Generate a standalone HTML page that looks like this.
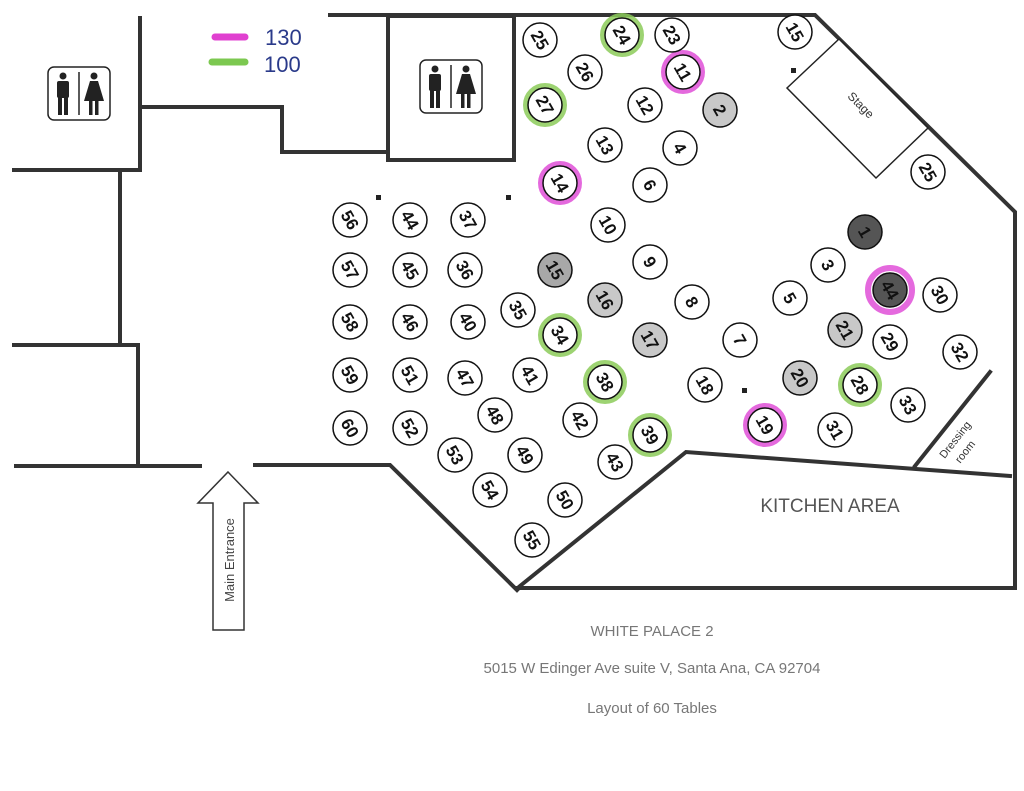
<!DOCTYPE html>
<html><head><meta charset="utf-8"><style>
html,body{margin:0;padding:0;background:#fff;}
svg{display:block;font-family:"Liberation Sans",sans-serif;}
</style></head><body>
<svg width="1024" height="791" viewBox="0 0 1024 791">
<defs>
<g id="rr">
<rect x="48" y="67" width="62" height="53" rx="6" fill="#fff" stroke="#222" stroke-width="1.5"/>
<line x1="79" y1="72" x2="79" y2="115" stroke="#222" stroke-width="1.5"/>
<circle cx="63" cy="76" r="3.5" fill="#222"/>
<rect x="57" y="81" width="12" height="17" rx="2" fill="#222"/>
<rect x="58" y="96" width="4" height="19" fill="#222"/><rect x="64" y="96" width="4" height="19" fill="#222"/>
<circle cx="94" cy="76" r="3.5" fill="#222"/>
<polygon points="90,81 98,81 104,101 84,101" fill="#222"/>
<rect x="89" y="100" width="3.5" height="15" fill="#222"/><rect x="95" y="100" width="3.5" height="15" fill="#222"/>
</g>
</defs>
<rect width="1024" height="791" fill="#fff"/>
<g stroke="#333" stroke-width="4" fill="none" stroke-linecap="square">
<path d="M140 18 V170 H14"/>
<path d="M120 170 V342"/>
<path d="M14 345 H138 V466"/>
<path d="M16 466 H200"/>
<path d="M255 465 H390 L517 590"/>
<path d="M143 107 H282 V152 H387"/>
<path d="M330 15 H815 L1015 212 V588 H517"/>
<rect x="388" y="16" width="126" height="144"/>
<path d="M520 586 L686 452 L1010 476"/>
<path d="M915 466 L990 372"/>
</g>
<polygon points="787,88 839,39 928,128 876,178" fill="#fff" stroke="#222" stroke-width="1.5"/>
<text x="858" y="108" font-size="12" fill="#333" text-anchor="middle" transform="rotate(45 858 108)">Stage</text>
<text x="958" y="442" font-size="11" fill="#333" text-anchor="middle" transform="rotate(-52 958 442)">Dressing</text>
<text x="968" y="454" font-size="11" fill="#333" text-anchor="middle" transform="rotate(-52 968 454)">room</text>
<text x="830" y="512" font-size="19" fill="#555" text-anchor="middle">KITCHEN AREA</text>
<use href="#rr"/>
<use href="#rr" transform="translate(372,-7)"/>
<line x1="215" y1="37" x2="245" y2="37" stroke="#e040d0" stroke-width="7" stroke-linecap="round"/>
<line x1="212" y1="62" x2="245" y2="62" stroke="#7cc850" stroke-width="7" stroke-linecap="round"/>
<text x="265" y="45" font-size="22" fill="#2a3a8a">130</text>
<text x="264" y="72" font-size="22" fill="#2a3a8a">100</text>
<g fill="#222"><rect x="376" y="195" width="5" height="5"/><rect x="506" y="195" width="5" height="5"/><rect x="791" y="68" width="5" height="5"/><rect x="742" y="388" width="5" height="5"/></g>
<polygon points="228,472 258,503 244,503 244,630 213,630 213,503 198,503" fill="#fff" stroke="#333" stroke-width="1.5"/>
<text x="234" y="560" font-size="13" fill="#444" text-anchor="middle" transform="rotate(-90 234 560)">Main Entrance</text>
<g fill="#777" font-size="15" text-anchor="middle">
<text x="652" y="636">WHITE PALACE 2</text>
<text x="652" y="673">5015 W Edinger Ave suite V, Santa Ana, CA 92704</text>
<text x="652" y="713">Layout of 60 Tables</text>
</g>
<g fill="none" stroke-width="6" opacity="0.85">
<g stroke="#e050d8"><circle cx="683" cy="72" r="19"/><circle cx="560" cy="183" r="19"/><circle cx="765" cy="425" r="19"/><circle cx="890" cy="290" r="22"/></g>
<g stroke="#8ccc5a"><circle cx="622" cy="35" r="19"/><circle cx="545" cy="105" r="19"/><circle cx="560" cy="335" r="19"/><circle cx="605" cy="382" r="19"/><circle cx="650" cy="435" r="19"/><circle cx="860" cy="385" r="19"/></g>
</g>
<g stroke="#111" stroke-width="1.5" fill="#fff">
<circle cx="350" cy="220" r="17"/><circle cx="410" cy="220" r="17"/><circle cx="468" cy="220" r="17"/>
<circle cx="350" cy="270" r="17"/><circle cx="410" cy="270" r="17"/><circle cx="465" cy="270" r="17"/>
<circle cx="350" cy="322" r="17"/><circle cx="410" cy="322" r="17"/><circle cx="468" cy="322" r="17"/>
<circle cx="350" cy="375" r="17"/><circle cx="410" cy="375" r="17"/><circle cx="465" cy="378" r="17"/>
<circle cx="350" cy="428" r="17"/><circle cx="410" cy="428" r="17"/><circle cx="455" cy="455" r="17"/>
<circle cx="495" cy="415" r="17"/><circle cx="525" cy="455" r="17"/><circle cx="490" cy="490" r="17"/>
<circle cx="532" cy="540" r="17"/><circle cx="565" cy="500" r="17"/><circle cx="615" cy="462" r="17"/>
<circle cx="580" cy="420" r="17"/><circle cx="530" cy="375" r="17"/><circle cx="518" cy="310" r="17"/>
<circle cx="650" cy="435" r="17"/><circle cx="605" cy="382" r="17"/><circle cx="560" cy="335" r="17"/>
<circle cx="650" cy="262" r="17"/><circle cx="608" cy="225" r="17"/><circle cx="650" cy="185" r="17"/>
<circle cx="605" cy="145" r="17"/><circle cx="680" cy="148" r="17"/><circle cx="645" cy="105" r="17"/>
<circle cx="683" cy="72" r="17"/><circle cx="672" cy="35" r="17"/><circle cx="622" cy="35" r="17"/>
<circle cx="585" cy="72" r="17"/><circle cx="545" cy="105" r="17"/><circle cx="540" cy="40" r="17"/>
<circle cx="560" cy="183" r="17"/><circle cx="692" cy="302" r="17"/><circle cx="705" cy="385" r="17"/>
<circle cx="740" cy="340" r="17"/><circle cx="790" cy="298" r="17"/><circle cx="828" cy="265" r="17"/>
<circle cx="890" cy="342" r="17"/><circle cx="940" cy="295" r="17"/><circle cx="960" cy="352" r="17"/>
<circle cx="860" cy="385" r="17"/><circle cx="908" cy="405" r="17"/><circle cx="765" cy="425" r="17"/>
<circle cx="835" cy="430" r="17"/><circle cx="795" cy="32" r="17"/><circle cx="928" cy="172" r="17"/>
<g fill="#c8c8c8"><circle cx="650" cy="340" r="17"/><circle cx="605" cy="300" r="17"/><circle cx="720" cy="110" r="17"/><circle cx="845" cy="330" r="17"/><circle cx="800" cy="378" r="17"/></g>
<circle cx="555" cy="270" r="17" fill="#a8a8a8"/>
<g fill="#555"><circle cx="865" cy="232" r="17"/><circle cx="890" cy="290" r="17"/></g>
</g>
<g font-size="17" font-weight="bold" text-anchor="middle" fill="#111">
<text x="350" y="226" transform="rotate(60 350 220)">56</text><text x="410" y="226" transform="rotate(60 410 220)">44</text><text x="468" y="226" transform="rotate(60 468 220)">37</text>
<text x="350" y="276" transform="rotate(60 350 270)">57</text><text x="410" y="276" transform="rotate(60 410 270)">45</text><text x="465" y="276" transform="rotate(60 465 270)">36</text>
<text x="350" y="328" transform="rotate(60 350 322)">58</text><text x="410" y="328" transform="rotate(60 410 322)">46</text><text x="468" y="328" transform="rotate(60 468 322)">40</text>
<text x="350" y="381" transform="rotate(60 350 375)">59</text><text x="410" y="381" transform="rotate(60 410 375)">51</text><text x="465" y="384" transform="rotate(60 465 378)">47</text>
<text x="350" y="434" transform="rotate(60 350 428)">60</text><text x="410" y="434" transform="rotate(60 410 428)">52</text><text x="455" y="461" transform="rotate(60 455 455)">53</text>
<text x="495" y="421" transform="rotate(60 495 415)">48</text><text x="525" y="461" transform="rotate(60 525 455)">49</text><text x="490" y="496" transform="rotate(60 490 490)">54</text>
<text x="532" y="546" transform="rotate(60 532 540)">55</text><text x="565" y="506" transform="rotate(60 565 500)">50</text><text x="615" y="468" transform="rotate(60 615 462)">43</text>
<text x="580" y="426" transform="rotate(60 580 420)">42</text><text x="530" y="381" transform="rotate(60 530 375)">41</text><text x="518" y="316" transform="rotate(60 518 310)">35</text>
<text x="650" y="441" transform="rotate(60 650 435)">39</text><text x="605" y="388" transform="rotate(60 605 382)">38</text><text x="560" y="341" transform="rotate(60 560 335)">34</text>
<text x="650" y="268" transform="rotate(60 650 262)">9</text><text x="608" y="231" transform="rotate(60 608 225)">10</text><text x="650" y="191" transform="rotate(60 650 185)">6</text>
<text x="605" y="151" transform="rotate(60 605 145)">13</text><text x="680" y="154" transform="rotate(60 680 148)">4</text><text x="645" y="111" transform="rotate(60 645 105)">12</text>
<text x="683" y="78" transform="rotate(60 683 72)">11</text><text x="672" y="41" transform="rotate(60 672 35)">23</text><text x="622" y="41" transform="rotate(60 622 35)">24</text>
<text x="585" y="78" transform="rotate(60 585 72)">26</text><text x="545" y="111" transform="rotate(60 545 105)">27</text><text x="540" y="46" transform="rotate(60 540 40)">25</text>
<text x="560" y="189" transform="rotate(60 560 183)">14</text><text x="692" y="308" transform="rotate(60 692 302)">8</text><text x="705" y="391" transform="rotate(60 705 385)">18</text>
<text x="740" y="346" transform="rotate(60 740 340)">7</text><text x="790" y="304" transform="rotate(60 790 298)">5</text><text x="828" y="271" transform="rotate(60 828 265)">3</text>
<text x="890" y="348" transform="rotate(60 890 342)">29</text><text x="940" y="301" transform="rotate(60 940 295)">30</text><text x="960" y="358" transform="rotate(60 960 352)">32</text>
<text x="860" y="391" transform="rotate(60 860 385)">28</text><text x="908" y="411" transform="rotate(60 908 405)">33</text><text x="765" y="431" transform="rotate(60 765 425)">19</text>
<text x="835" y="436" transform="rotate(60 835 430)">31</text><text x="795" y="38" transform="rotate(60 795 32)">15</text><text x="928" y="178" transform="rotate(60 928 172)">25</text>
<text x="650" y="346" transform="rotate(60 650 340)">17</text><text x="605" y="306" transform="rotate(60 605 300)">16</text><text x="720" y="116" transform="rotate(60 720 110)">2</text>
<text x="845" y="336" transform="rotate(60 845 330)">21</text><text x="800" y="384" transform="rotate(60 800 378)">20</text><text x="555" y="276" transform="rotate(60 555 270)">15</text>
<text x="865" y="238" transform="rotate(60 865 232)">1</text><text x="890" y="296" transform="rotate(60 890 290)">44</text>
</g>
</svg>
</body></html>
